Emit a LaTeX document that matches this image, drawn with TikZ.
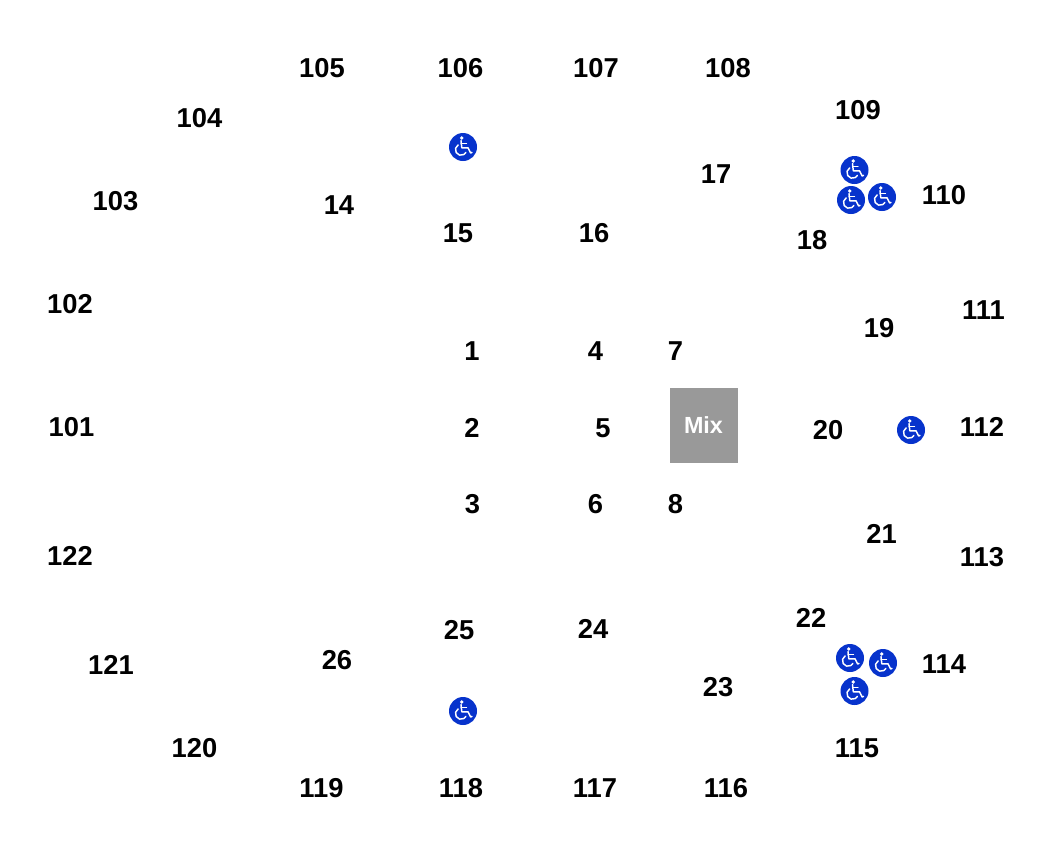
\documentclass[tikz,border=0pt]{standalone}
\usepackage{fontspec}
\setmainfont{Liberation Sans}
\definecolor{wcblue}{HTML}{0733CC}
\definecolor{mixgray}{HTML}{999999}
\tikzset{
  x=0.75pt,y=-0.75pt,
  seat/.style={font=\fontsize{20.5pt}{22pt}\selectfont\bfseries,text=black,inner sep=0pt,anchor=center},
  wcdisc/.style={circle,fill=wcblue,minimum size=21pt,inner sep=0pt},
  wcline/.style={draw=white,line width=1.1pt,line cap=round,line join=round},
  wheelchair/.pic={
    \path[fill=white] (-1.3,-9) circle[radius=1.9];
    \path[wcline] (-2,-6.5) -- (-1.2,0.8) -- (5,0.8) -- (7.6,6) -- (9,5.4);
    \path[wcline] (-2,-3.6) -- (3.5,-3.6);
    \path[wcline] (-4.8,-2.15) arc[start angle=240,end angle=30,radius=5.6];
  },
  mixbox/.style={fill=mixgray,minimum width=51pt,minimum height=56pt,inner sep=0pt,
    text=white,font=\fontsize{17.5pt}{19pt}\selectfont\bfseries}
}
\newcommand{\seatlabel}[3]{\node[seat] (s#3) at (#1,#2) {#3};}
\newcommand{\wcicon}[3]{\node[wcdisc] (#3) at (#1,#2) {}; \pic at (#1,#2) {wheelchair};}
\begin{document}
\begin{tikzpicture}
\useasboundingbox[fill=white] (0,0) rectangle (1050,858);
\seatlabel{322}{68.5}{105}
\seatlabel{460.5}{68.5}{106}
\seatlabel{596}{68.5}{107}
\seatlabel{728}{68.5}{108}
\seatlabel{858}{110.5}{109}
\seatlabel{199.5}{118}{104}
\seatlabel{115.5}{201}{103}
\seatlabel{944}{195}{110}
\seatlabel{70}{304}{102}
\seatlabel{983.5}{310}{111}
\seatlabel{71.5}{427}{101}
\seatlabel{982}{427}{112}
\seatlabel{70}{556}{122}
\seatlabel{982}{557}{113}
\seatlabel{944}{664}{114}
\seatlabel{111}{665}{121}
\seatlabel{194.5}{748}{120}
\seatlabel{857}{748}{115}
\seatlabel{321.5}{788}{119}
\seatlabel{461}{788}{118}
\seatlabel{595}{788}{117}
\seatlabel{726}{788}{116}
\seatlabel{716}{174}{17}
\seatlabel{339}{205}{14}
\seatlabel{458}{233}{15}
\seatlabel{594}{233}{16}
\seatlabel{812}{240}{18}
\seatlabel{879}{328}{19}
\seatlabel{472}{351}{1}
\seatlabel{595.5}{351}{4}
\seatlabel{675.5}{351}{7}
\seatlabel{472}{428}{2}
\seatlabel{603}{428}{5}
\seatlabel{828}{430}{20}
\seatlabel{472.5}{504}{3}
\seatlabel{595.5}{504}{6}
\seatlabel{675.5}{504}{8}
\seatlabel{881.5}{534}{21}
\seatlabel{811}{618}{22}
\seatlabel{459}{630}{25}
\seatlabel{593}{629}{24}
\seatlabel{337}{660}{26}
\seatlabel{718}{687}{23}
\node[mixbox] (mix) at (703.5,425.5) {Mix};
\wcicon{463}{147}{w1}
\wcicon{854.5}{170}{w2}
\wcicon{851}{200}{w3}
\wcicon{882}{197}{w4}
\wcicon{911}{430}{w5}
\wcicon{850}{658}{w6}
\wcicon{883}{663}{w7}
\wcicon{854.5}{691}{w8}
\wcicon{463}{711}{w9}
\end{tikzpicture}
\end{document}
